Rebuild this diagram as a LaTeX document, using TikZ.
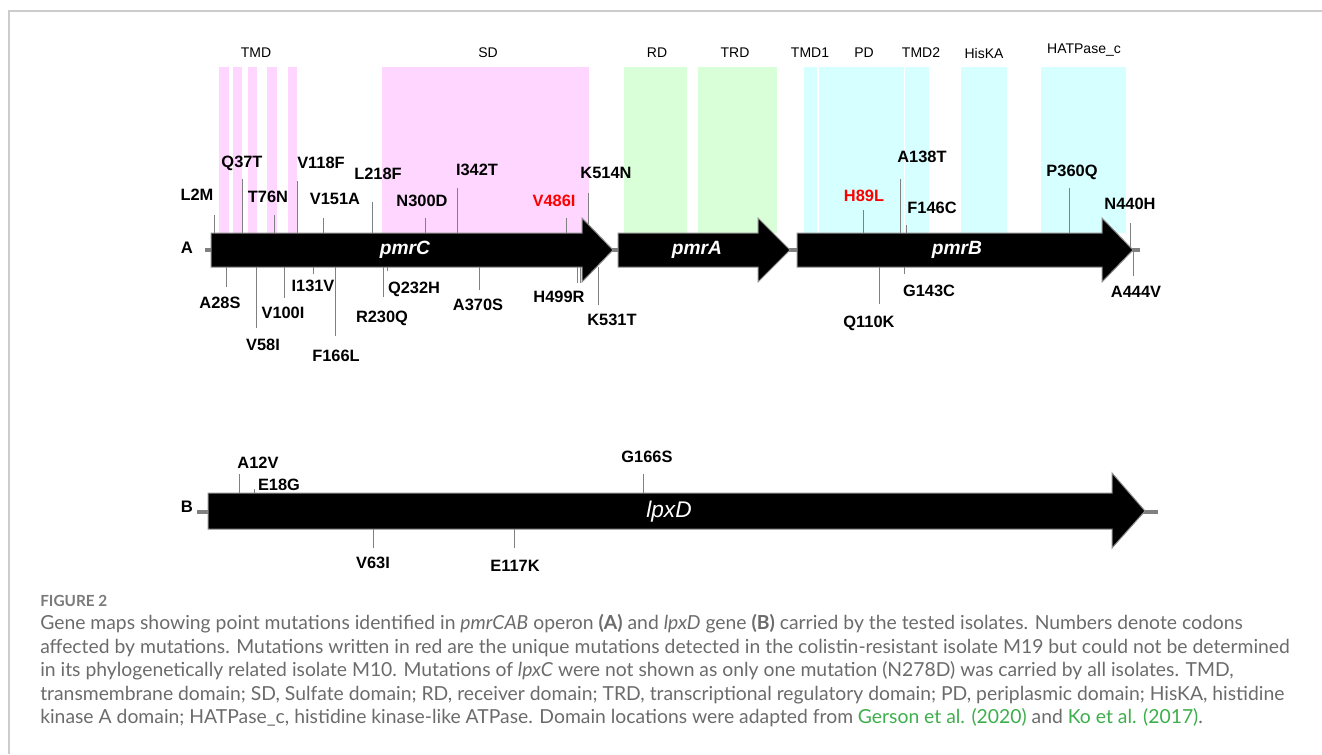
\documentclass[tikz,border=0pt]{standalone}
\usepackage{fontspec}
\setmainfont{Liberation Sans}
\newfontfamily\capfont{Lato}
\usetikzlibrary{positioning}
\definecolor{tmdpink}{HTML}{FFD6FF}
\definecolor{rdgreen}{HTML}{D9FFD9}
\definecolor{pdcyan}{HTML}{D6FFFF}
\definecolor{tickgray}{HTML}{808080}
\definecolor{mutred}{HTML}{FF0000}
\definecolor{capgray}{HTML}{6B6B6B}
\definecolor{figgray}{HTML}{7A7A7A}
\definecolor{linkgreen}{HTML}{3DAE4B}
\definecolor{framegray}{HTML}{CCCCCC}

\begin{document}
\begin{tikzpicture}[x=0.75pt, y=-0.75pt,
  domlbl/.style={font=\fontsize{10.5}{12}\selectfont, inner sep=0pt},
  mut/.style={font=\fontsize{12.3}{14}\selectfont\bfseries, inner sep=0pt},
  tick/.style={draw=tickgray, line width=0.75pt},
  gene/.style={fill=black, draw=black!45, line width=0.75pt},
  genelbl/.style={font=\fontsize{14.4}{16}\selectfont\bfseries\itshape, text=white, inner sep=0pt},
  panel/.style={font=\fontsize{12.5}{14}\selectfont\bfseries, inner sep=0pt},
  spine/.style={draw=tickgray, line width=3pt},
  capline/.style={font=\capfont\fontsize{14.5}{17}\selectfont, text=capgray, anchor=base west, inner sep=0pt},
]
  \useasboundingbox (0,0) rectangle (1322,754);
  \draw[framegray, line width=1.1pt] (9,754) -- (9,11) -- (1322,11);

  % domain shading
  \foreach \xa/\xb in {219/229, 233/242, 248/257, 267/277, 288/297, 382/589}
    \fill[tmdpink] (\xa,67) rectangle (\xb,233);
  \foreach \xa/\xb in {624/687, 698/777}
    \fill[rdgreen] (\xa,67) rectangle (\xb,233);
  \foreach \xa/\xb in {804/817, 819/904, 905/929, 961/1007, 1041/1126}
    \fill[pdcyan] (\xa,67) rectangle (\xb,233);

  \node[domlbl] (tmd)   at (256,53)  {TMD};
  \node[domlbl] (sd)    at (488,53)  {SD};
  \node[domlbl] (rd)    at (657,53)  {RD};
  \node[domlbl] (trd)   at (735,53)  {TRD};
  \node[domlbl] (tmd1)  at (810,53)  {TMD1};
  \node[domlbl] (pd)    at (864,53)  {PD};
  \node[domlbl] (tmd2)  at (921,53)  {TMD2};
  \node[domlbl] (hiska) at (984,53)  {HisKA};
  \node[domlbl] (hatp)  at (1084,50) {HATPase\_c};

  % mutations: name / x / tick start / tick end / label x / label y / colour
  \foreach \n/\x/\ya/\yb/\lx/\ly/\c in {
      L2M/214/215/233/197/195/black, Q37T/242/179/233/242/163/black,
      T76N/274/215/233/268/197/black, V118F/297/181/233/321/163/black,
      V151A/323/218/233/335/199/black, L218F/372/202/233/378/174/black,
      N300D/425/218/233/422/201/black, I342T/457/188/233/477/170/black,
      V486I/566/218/233/554/201/mutred, K514N/588/193/233/606/173/black,
      A28S/226/287/267/220/303/black, V58I/256/328/267/263/345/black,
      V100I/284/298/267/283/313/black, I131V/313/274/267/313/286/black,
      F166L/335/336/267/336/356/black, R230Q/383/297/267/382/318/black,
      Q232H/387/271/265/414/289/black, A370S/479/290/267/478/305/black,
      H499R/577/283/267/559/297/black, K531T/598/305/267/612/320/black,
      H89L/863/210/233/864/196/mutred, A138T/900/179/233/922/157/black,
      F146C/906/225/233/932/208/black, P360Q/1069/188/233/1072/172/black,
      N440H/1130/223/250/1130/204/black, Q110K/879/304/267/869/323/black,
      G143C/904/274/267/929/291/black, A444V/1133/276/250/1136/292/black,
      A12V/239/474/493/258/463/black, E18G/254/489/493/279/485/black,
      G166S/643/474/493/647/457/black, V63I/373/548/529/373/563/black,
      E117K/514/548/529/515/566/black} {
    \node[mut, text=\c] (\n) at (\lx,\ly) {\n};
    \coordinate (\n-top) at (\x,\ya);
    \coordinate (\n-base) at (\x,\yb);
    \draw[tick] (\n-top) -- (\n-base);
  }
  \coordinate (H499R-top2) at (580,283);
  \coordinate (H499R-base2) at (580,267);
  \draw[tick] (H499R-top2) -- (H499R-base2);

  % operon A
  \coordinate (a-start) at (205,250);
  \coordinate (a-end) at (1140,250);
  \draw[spine] (a-start) -- (a-end);
  \draw[gene] (211,233) -- (582,233) -- (582,218) -- (613,250) -- (582,282) -- (582,267) -- (211,267) -- cycle;
  \draw[gene] (618,233) -- (758,233) -- (758,218) -- (790,250) -- (758,282) -- (758,267) -- (618,267) -- cycle;
  \draw[gene] (797,233) -- (1102,233) -- (1102,218) -- (1133,250) -- (1102,282) -- (1102,267) -- (797,267) -- cycle;
  \node[genelbl] (pmrC) at (405,250) {pmrC};
  \node[genelbl] (pmrA) at (697,250) {pmrA};
  \node[genelbl] (pmrB) at (957,250) {pmrB};
  \node[panel] (pa) at (187,248) {A};

  % gene B
  \coordinate (b-start) at (197,512);
  \coordinate (b-end) at (1158,512);
  \draw[spine] (b-start) -- (b-end);
  \draw[gene] (208,493) -- (1112,493) -- (1112,473) -- (1145,511) -- (1112,548) -- (1112,529) -- (208,529) -- cycle;
  \node[genelbl, font=\fontsize{17}{19}\selectfont\itshape] (lpxD) at (669,512) {lpxD};
  \node[panel] (pb) at (187,507) {B};

  % caption
  \node[capline, font=\capfont\fontsize{11.5}{13}\selectfont\bfseries, text=figgray] (fig) at (40,606) {FIGURE 2};
  \node[capline] (c1) at (40,629) {Gene maps showing point mutations identified in \textit{pmrCAB} operon \textbf{(A)} and \textit{lpxD} gene \textbf{(B)} carried by the tested isolates. Numbers denote codons};
  \node[capline] (c2) at (40,653) {affected by mutations. Mutations written in red are the unique mutations detected in the colistin-resistant isolate M19 but could not be determined};
  \node[capline] (c3) at (40,676) {in its phylogenetically related isolate M10. Mutations of \textit{lpxC} were not shown as only one mutation (N278D) was carried by all isolates. TMD,};
  \node[capline] (c4) at (40,700) {transmembrane domain; SD, Sulfate domain; RD, receiver domain; TRD, transcriptional regulatory domain; PD, periplasmic domain; HisKA, histidine};
  \node[capline] (c5) at (40,723) {kinase A domain; HATPase\_c, histidine kinase-like ATPase. Domain locations were adapted from {\color{linkgreen}Gerson et al. (2020)} and {\color{linkgreen}Ko et al. (2017)}.};
\end{tikzpicture}
\end{document}
